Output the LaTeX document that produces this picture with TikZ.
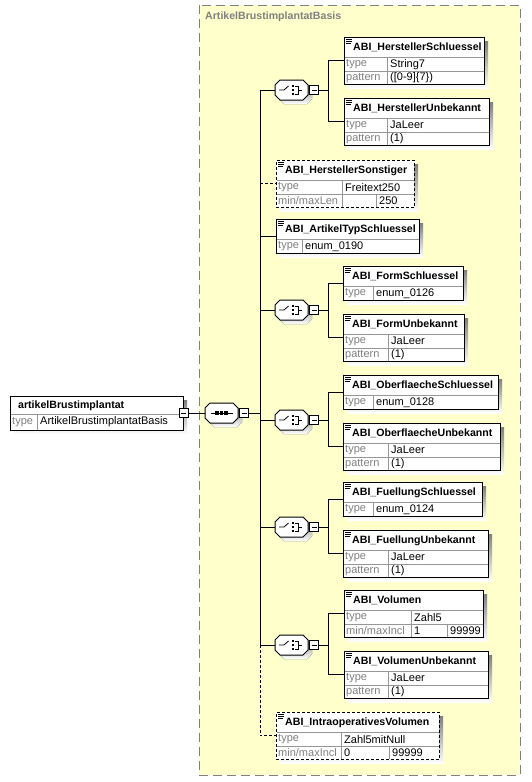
\documentclass[tikz,border=0pt]{standalone}
\usepackage{fontspec}
\setmainfont{Liberation Sans}
\usetikzlibrary{positioning,calc}

\definecolor{typebg}{RGB}{255,255,204}
\definecolor{shade}{RGB}{192,192,192}
\definecolor{keygray}{RGB}{128,128,128}
\definecolor{gridgray}{RGB}{150,150,150}

% element box: [border] name, x, y, width, rows, title, divider, rows list
\newcommand{\xelem}[9][solid]{%
  \fill[shade] (#3+4,#4+4) rectangle ++(#5,20.5+13.5*#6);
  \node[elbox,#1,minimum width=#5,minimum height=20.5+13.5*#6] (#2) at (#3,#4) {};
  \node[eltitle] (#2-t) at (#3+9,#4+10.5) {#7};
  \draw[line width=.7] (#3+2,#4+2) -- ++(6,0) (#3+2,#4+4) -- ++(6,0) (#3+2,#4+6) -- ++(5,0);
  \foreach \rw/\ky/\vl in {#9} {
    \draw[grid] (#3+.5,#4+7+13.5*\rw) -- (#3+#5-.5,#4+7+13.5*\rw);
    \draw[grid] (#3+#8,#4+7+13.5*\rw) -- ++(0,13);
    \node[elkey] (#2-k\rw) at (#3+2,#4+13.75+13.5*\rw) {\ky};
    \node[elval] (#2-v\rw) at (#3+#8+3,#4+13.75+13.5*\rw) {\vl};
  }
}

% compositor icons, drawn round (0,0)
\newcommand{\seqicon}{%
  \draw[line width=.8pt] (-11,0) -- (11,0);
  \foreach \dx in {-4.5,0,4.5} \fill[black] (\dx-1.6,-1.6) rectangle ++(3.2,3.2);}
\newcommand{\choiceicon}{%
  \draw[line width=.8pt] (-12.5,0) -- (-7.5,0) -- (-3,-4);
  \foreach \dy in {-4,0,4} \fill[black] (.2,\dy-1.3) rectangle ++(2.6,2.6);
  \draw[line width=.8pt] (3.5,-4) -- (6.5,-4) -- (6.5,4) -- (3.5,4) (6.5,0) -- (10,0);}

% compositor: icon, name, x, y (centre)
\newcommand{\xcomp}[4]{%
  \fill[shade,shift={(#3+4,#4+4)}] (-11.5,-10) -- (11.5,-10) -- (16.5,-5) -- (16.5,5)
    -- (11.5,10) -- (-11.5,10) -- (-16.5,5) -- (-16.5,-5) -- cycle;
  \node[comp] (#2) at (#3,#4) {};
  \draw[fill=white,line width=1pt,shift={(#3,#4)}] (-11.5,-10) -- (11.5,-10) -- (16.5,-5) -- (16.5,5)
    -- (11.5,10) -- (-11.5,10) -- (-16.5,5) -- (-16.5,-5) -- cycle;
  \begin{scope}[shift={(#3,#4)}] #1 \end{scope}
  \node[mbox,right=1.5pt of #2] (#2-m) {};
}

\begin{document}
\begin{tikzpicture}[x=1pt,y=-1pt,
    elbox/.style={draw,line width=1pt,fill=white,anchor=north west,inner sep=0pt,outer sep=0pt},
    dashelem/.style={dash pattern=on 3pt off 2pt},
    grid/.style={draw=gridgray,line width=.6pt},
    eltitle/.style={anchor=west,inner sep=0pt,font=\bfseries\fontsize{10.6}{12}\selectfont},
    elkey/.style={anchor=west,inner sep=0pt,text=keygray,font=\fontsize{11}{12}\selectfont},
    elval/.style={anchor=west,inner sep=0pt,font=\fontsize{11}{12}\selectfont},
    mbox/.style={draw,fill=white,line width=.8pt,minimum size=9pt,inner sep=0pt,outer sep=0pt,
      path picture={\draw[line width=.8pt] ([xshift=2pt]path picture bounding box.west)
        -- ([xshift=-2pt]path picture bounding box.east);}},
    comp/.style={minimum width=33pt,minimum height=20pt,inner sep=0pt,outer sep=0pt},
    typetitle/.style={anchor=west,inner sep=0pt,text=keygray,font=\bfseries\fontsize{10.6}{12}\selectfont}]
  \useasboundingbox (0,0) rectangle (531,782);

  % complex type
  \draw[fill=typebg,draw=keygray,line width=1pt,dash pattern=on 9pt off 5pt] (199,5) rectangle (520,775);
  \node[typetitle] (base-t) at (205,17) {ArtikelBrustimplantatBasis};

  % root element
  \fill[shade] (14,400) rectangle ++(173,34);
  \node[elbox,minimum width=173,minimum height=34] (root) at (10,396) {};
  \node[eltitle] (root-t) at (18,406) {artikelBrustimplantat};
  \draw[grid] (10.5,414) -- (182.5,414) (37,414) -- (37,429.5);
  \node[elkey] (root-k) at (12,422) {type};
  \node[elval] (root-v) at (40,422) {ArtikelBrustimplantatBasis};
  \node[mbox] (root-m) at (183.5,413) {};

  % sequence and choices
  \xcomp{\seqicon}{seq}{221.5}{413}
  \foreach \c/\y in {ch1/90,ch2/310,ch3/420,ch4/527,ch5/645} {
    \xcomp{\choiceicon}{\c}{291.5}{\y}
  }

  % elements
  \xelem{hs}{344}{37}{140}{2}{ABI\_HerstellerSchluessel}{43}{1/type/String7, 2/pattern/{([0-9]\{7\})}}
  \xelem{hu}{344}{98}{145}{2}{ABI\_HerstellerUnbekannt}{43}{1/type/JaLeer, 2/pattern/{(1)}}
  \xelem[dashelem]{hso}{276}{160}{138}{2}{ABI\_HerstellerSonstiger}{66}{1/type/Freitext250, 2/{min/maxLen}/{}}
  \xelem{at}{276}{219}{143}{1}{ABI\_ArtikelTypSchluessel}{26}{1/type/enum\_0190}
  \xelem{fs}{343}{266}{120}{1}{ABI\_FormSchluessel}{30}{1/type/enum\_0126}
  \xelem{fu}{343}{314}{121}{2}{ABI\_FormUnbekannt}{45}{1/type/JaLeer, 2/pattern/{(1)}}
  \xelem{os}{343}{375}{155}{1}{ABI\_OberflaecheSchluessel}{30}{1/type/enum\_0128}
  \xelem{ou}{343}{423}{157}{2}{ABI\_OberflaecheUnbekannt}{45}{1/type/JaLeer, 2/pattern/{(1)}}
  \xelem{fls}{343}{482}{139}{1}{ABI\_FuellungSchluessel}{30}{1/type/enum\_0124}
  \xelem{flu}{343}{530}{145}{2}{ABI\_FuellungUnbekannt}{45}{1/type/JaLeer, 2/pattern/{(1)}}
  \xelem{vo}{344}{590}{139}{2}{ABI\_Volumen}{67}{1/type/Zahl5, 2/{min/maxIncl}/1}
  \xelem{vu}{344}{651}{144}{2}{ABI\_VolumenUnbekannt}{44}{1/type/JaLeer, 2/pattern/{(1)}}
  \xelem[dashelem]{iv}{276}{712}{163}{2}{ABI\_IntraoperativesVolumen}{65}{1/type/Zahl5mitNull, 2/{min/maxIncl}/0}
  % third cells of the min/max rows
  \foreach \e/\d/\t in {hso/100/250, vo/103/99999, iv/113/99999} {
    \draw[grid] ($(\e.south west)+(\d,-.5)$) -- ++(0,-13);
    \node[elval] (\e-v3) at ($(\e-k2.west -| \e.west)+(\d+3,0)$) {\t};
  }

  % connectors
  \coordinate (spine) at (260,413);
  \draw[line width=1pt] (root-m) -- (seq);
  \draw[line width=1pt] (seq-m) -- (spine);
  \draw[line width=1pt] (ch1.west -| spine) -- (ch5.west -| spine);
  \draw[line width=1pt,dashelem] (ch5.west -| spine) -- (iv.west -| spine) -- (iv.west);
  \draw[line width=1pt,dashelem] (hso.west -| spine) -- (hso.west);
  \foreach \n in {ch1,at,ch2,ch3,ch4,ch5}
    \draw[line width=1pt] (\n.west -| spine) -- (\n.west);
  \foreach \c/\a/\b in {ch1/hs/hu, ch2/fs/fu, ch3/os/ou, ch4/fls/flu, ch5/vo/vu} {
    \draw[line width=1pt] (\c-m.east) -- ++(10,0) coordinate (\c-b);
    \draw[line width=1pt] (\a.west) -- (\a.west -| \c-b) -- (\b.west -| \c-b) -- (\b.west);
  }
\end{tikzpicture}
\end{document}
